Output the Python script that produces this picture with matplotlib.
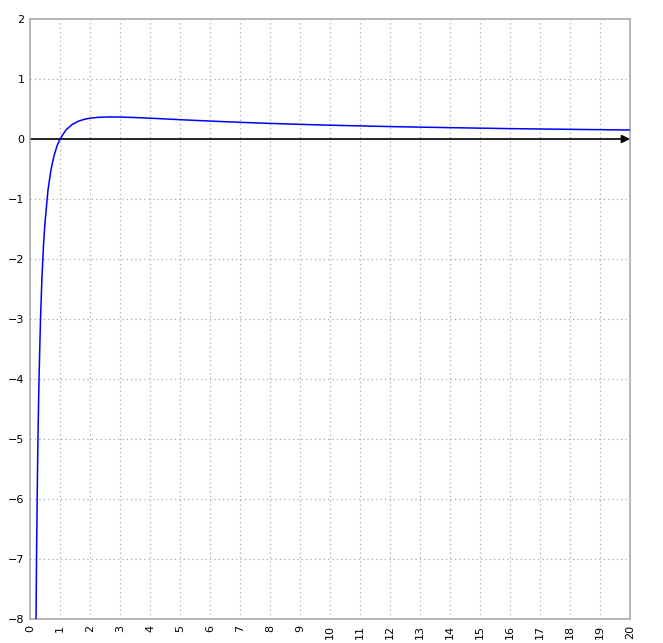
import matplotlib
matplotlib.use("Agg")
import matplotlib.pyplot as plt

# values
x_vals = [0.2, 0.22, 0.25, 0.27, 0.3, 0.35, 0.4, 0.45, 0.5, 0.6, 0.7, 0.8, 0.9, 1.0,
          1.2, 1.4, 1.6, 1.8, 2.0, 2.3, 2.7, 3.0, 3.5, 4.0, 5.0, 6.0, 7.0, 8.0,
          9.0, 10.0, 12.0, 14.0, 16.0, 18.0, 20.0]
y_vals = [-8.05, -6.88, -5.55, -4.85, -4.01, -3.0, -2.29, -1.77, -1.39, -0.85, -0.51,
          -0.28, -0.117, 0.0, 0.152, 0.24, 0.294, 0.327, 0.347, 0.362, 0.368, 0.366,
          0.358, 0.347, 0.322, 0.299, 0.278, 0.26, 0.244, 0.23, 0.207, 0.189, 0.173,
          0.161, 0.15]

x_ticks = list(range(0, 21))
y_ticks = list(range(-8, 3))

fig = plt.figure(figsize=(6.63, 6.43), dpi=100)
ax = fig.add_axes([30 / 663, 24 / 643, 600 / 663, 600 / 643])

ax.set_xlim(0, 20)
ax.set_ylim(-8, 2)

# dotted grid, skipping the zero line (drawn as the axis)
for xv in x_ticks[1:-1]:
    ax.axvline(xv, color="#aaaaaa", linestyle=(0, (1, 2.5)), linewidth=0.9, zorder=1)
for yv in y_ticks[1:-1]:
    if yv != 0:
        ax.axhline(yv, color="#aaaaaa", linestyle=(0, (1, 2.5)), linewidth=0.9, zorder=1)

ax.plot(x_vals, y_vals, color="#0000ff", linewidth=1.1, zorder=3)

# x axis with arrow
ax.annotate("", xy=(20, 0), xytext=(0, 0),
            arrowprops=dict(arrowstyle="-|>", color="black", lw=1.2,
                            mutation_scale=12, shrinkA=0, shrinkB=0),
            zorder=2)

ax.set_xticks(x_ticks)
ax.set_xticklabels([str(v) for v in x_ticks], rotation=90)
ax.set_yticks(y_ticks)
ax.set_yticklabels([str(v).replace("-", "\u2212") for v in y_ticks])
ax.tick_params(length=0, labelsize=8, pad=4)

for sp in ax.spines.values():
    sp.set_color("#aaaaaa")
    sp.set_linewidth(1.2)

fig.savefig("out.png", dpi=100)
